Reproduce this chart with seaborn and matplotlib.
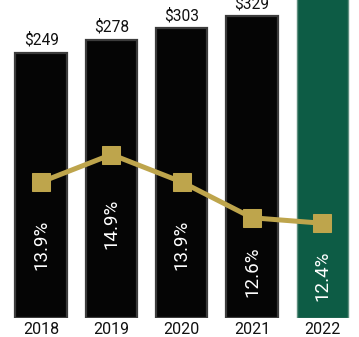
import numpy as np
import pandas as pd
import matplotlib
matplotlib.use("Agg")
import matplotlib.pyplot as plt
import matplotlib.transforms as mtransforms
import seaborn as sns

years = ["2018", "2019", "2020", "2021", "2022"]
dollars = [249, 278, 303, 329, 368]
dollar_labels = ["$249", "$278", "$303", "$329", "$368"]
pcts = [13.9, 14.9, 13.9, 12.6, 12.4]
pct_labels = ["13.9%", "14.9%", "13.9%", "12.6%", "12.4%"]

BLACK = "#050505"
GREEN = "#0d5c45"
GOLD = "#bea54c"

sns.set_theme(style="white")
plt.rcParams["font.family"] = ["Roboto", "DejaVu Sans"]

fig = plt.figure(figsize=(3.59, 3.37), dpi=100)
W, H = 359, 337
ax = fig.add_axes([6 / W, 19 / H, 351.5 / W, 318 / H])

df = pd.DataFrame({"year": years, "value": dollars})
palette = [BLACK] * 4 + [GREEN]
sns.barplot(data=df, x="year", y="value", hue="year", palette=palette,
            legend=False, width=0.73, ax=ax, saturation=1)

BASE = -325.6
for p, v, yr in zip(ax.patches, dollars, years):
    p.set_y(BASE)
    p.set_height(v - BASE)
    if yr == "2022":
        p.set_edgecolor("#5f8f7f")
        p.set_linewidth(1.0)
    else:
        p.set_edgecolor("#3c3c3c")
        p.set_linewidth(1.6)

ax.set_ylim(BASE, 364.6)
ax.set_xlim(-0.5, 4.5)

for i, (v, lab) in enumerate(zip(dollars, dollar_labels)):
    ax.annotate(lab, (i, v), xytext=(0, 6), textcoords="offset points",
                ha="center", va="baseline", fontsize=11.2, color="#111111")

ax.set_xlabel("")
ax.set_ylabel("")
ax.set_yticks([])
ax.tick_params(axis="x", length=0, pad=3, labelsize=11.5, labelcolor="#111111")
for s in ax.spines.values():
    s.set_visible(False)

ax2 = ax.twinx()
ax2.set_position(ax.get_position())
pdf = pd.DataFrame({"x": np.arange(len(years)), "pct": pcts})
sns.lineplot(data=pdf, x="x", y="pct", ax=ax2, color=GOLD, linewidth=3.6,
             marker="s", markersize=12.5, markeredgecolor=GOLD,
             markerfacecolor=GOLD)
ax2.set_ylim(13.9 - 136 / 27.5, 13.9 + 182 / 27.5)
ax2.set_xlim(-0.5, 4.5)
ax2.set_yticks([])
ax2.set_ylabel("")
ax2.set_xlabel("")
for s in ax2.spines.values():
    s.set_visible(False)

for i, (p, lab) in enumerate(zip(pcts, pct_labels)):
    ax2.text(i, 0.75 * p + 1.2, lab, rotation=90, ha="center", va="center",
             color="white", fontsize=13.5)

fig.savefig("out.png", dpi=100)
